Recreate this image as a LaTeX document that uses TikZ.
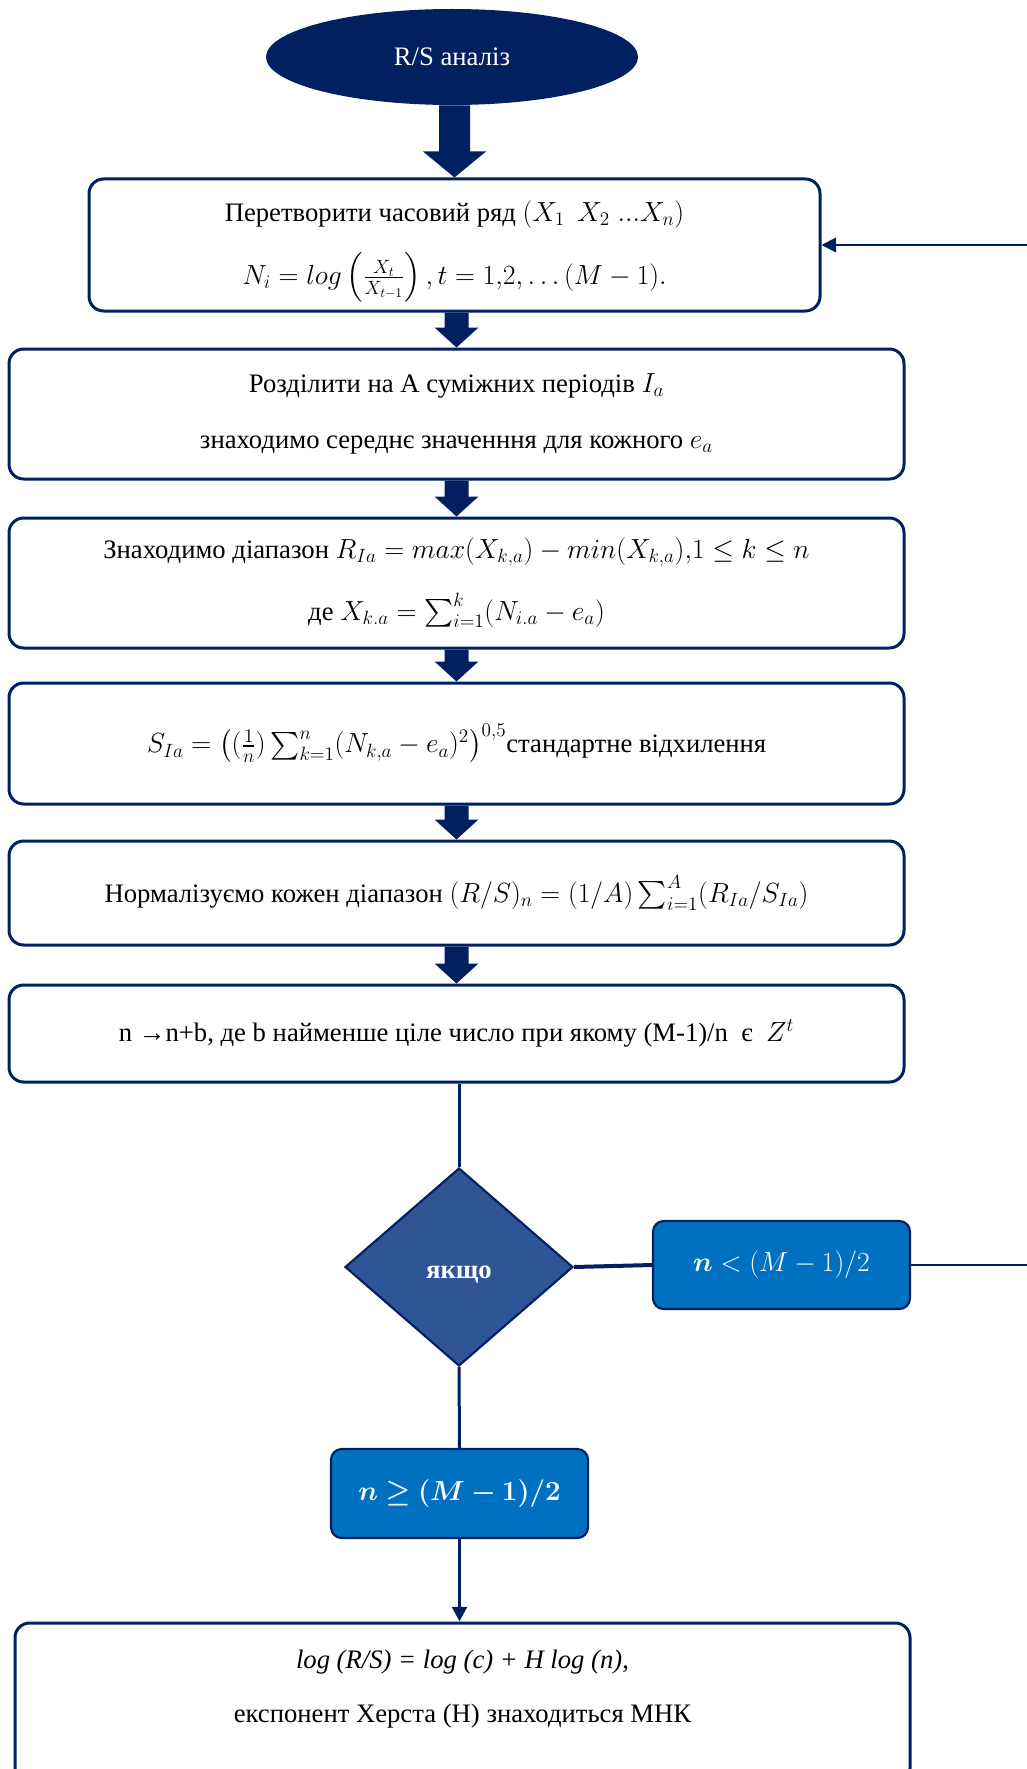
\documentclass[tikz,border=0pt]{standalone}
\usepackage{amsmath}
\usepackage{bm}
\usepackage{fontspec}
\setmainfont{Liberation Serif}
\usetikzlibrary{shapes.geometric,arrows.meta,calc}

\definecolor{navy}{HTML}{002060}
\definecolor{diafill}{HTML}{2F5597}
\definecolor{condfill}{HTML}{0070C0}

% one drawing unit = one pixel of the 1027 x 1769 canvas
\newcommand{\pxu}{0.75pt}

% filled block arrow pointing down into the top of a node
% #1 source node, #2 target node, #3 shaft half-width, #4 head half-width, #5 head length
\newcommand{\blockarrow}[5]{%
  \fill[navy] ($(#2.north |- #1.south)+(-#3,0)$) -- ($(#2.north)+(-#3,-#5)$)
    -- ($(#2.north)+(-#4,-#5)$) -- (#2.north) -- ($(#2.north)+(#4,-#5)$)
    -- ($(#2.north)+(#3,-#5)$) -- ($(#2.north |- #1.south)+(#3,0)$) -- cycle;}

\begin{document}
\begin{tikzpicture}[x=0.75pt,y=-0.75pt,
  every node/.style={font=\fontsize{20}{24}\selectfont},
  stepbox/.style={draw=navy, line width=2.25pt, rounded corners=11pt,
    align=center, inner sep=0pt, fill=white, minimum width=895*\pxu},
  condbox/.style={draw=navy, line width=1.6pt, rounded corners=8pt, fill=condfill,
    text=white, inner sep=0pt, minimum width=257*\pxu, minimum height=88*\pxu},
  conn/.style={draw=navy, line width=2.25pt},
  thinconn/.style={draw=navy, line width=1.6pt},
  tip/.style={-{Triangle[length=11pt,width=11pt]}}]

\useasboundingbox (0,0) rectangle (1027,1769);
\clip (0,0) rectangle (1027,1769);

% start terminal
\node[ellipse, fill=navy, text=white, minimum width=372*\pxu, minimum height=96*\pxu,
  inner sep=0pt] (start) at (452,57) {R/S аналіз};

% processing steps
\node[stepbox, minimum width=731*\pxu, minimum height=132*\pxu] (b1) at (454.5,245)
  {\rule{0pt}{25.5pt}Перетворити часовий ряд $(X_1\;\, X_2\;...X_n)$\\[17.5pt]
   $N_i = log\left(\frac{X_t}{X_{t-1}}\right), t = 1{,}2{,}\ldots(M-1).$};

\node[stepbox, minimum height=130*\pxu] (b2) at (456.5,414)
  {Розділити на А суміжних періодів $I_a$\\[18pt]
   знаходимо середнє значенння для кожного $e_a$};

\node[stepbox, minimum height=130*\pxu] (b3) at (456.5,583)
  {Знаходимо діапазон $R_{Ia} = max(X_{k,a}) - min(X_{k,a}){,}1 \le k \le n$\\[19pt]
   де $X_{k.a} = \sum_{i=1}^{k}(N_{i.a} - e_a)$};

\node[stepbox, minimum height=121*\pxu] (b4) at (456.5,743.5)
  {$S_{Ia} = \left((\frac{1}{n})\sum_{k=1}^{n}(N_{k,a} - e_a)^2\right)^{0{,}5}$стандартне відхилення};

\node[stepbox, minimum height=104*\pxu] (b5) at (456.5,893)
  {Нормалізуємо кожен діапазон $(R/S)_n = (1/A)\sum_{i=1}^{A}(R_{Ia}/S_{Ia})$};

\node[stepbox, minimum height=97*\pxu] (b6) at (456.5,1033.5)
  {n →n+b, де b найменше ціле число при якому (M-1)/n\ \ є\ \ $Z^t$};

% decision
\node[diamond, draw=navy, fill=diafill, line width=1.6pt, text=white, inner sep=0pt,
  minimum width=228*\pxu, minimum height=198*\pxu,
  font=\fontsize{20}{24}\selectfont\bfseries] (dia) at (459,1267)
  {\raisebox{-8.5pt}[0pt][0pt]{якщо}};

\node[condbox] (nlt) at (781.5,1265) {$\bm{n} < (M-1)/2$};
\node[condbox, minimum height=89*\pxu] (nge) at (459.5,1493.5) {$\bm{n \geq (M-1)/2}$};

% final step (runs past the lower edge)
\node[stepbox, minimum height=160*\pxu] (fin) at (462.5,1703) {};
\node[align=center] (fintext) at (462.5,1689)
  {\textit{log (R/S) = log (c) + H log (n)},\\[16.5pt]
   експонент Херста (Н) знаходиться МНК};

% block arrows between the steps
\blockarrow{start}{b1}{15.5}{31.5}{26}
\blockarrow{b1}{b2}{12}{22}{20}
\blockarrow{b2}{b3}{12}{22}{20}
\blockarrow{b3}{b4}{12}{22}{20}
\blockarrow{b4}{b5}{12}{22}{20}
\blockarrow{b5}{b6}{12}{22}{20}

% decision connectors
\draw[conn] (dia.north |- b6.south) -- (dia.north);
\draw[navy, line width=3pt] (dia.east) -- (nlt.west);
\draw[conn] (dia.south) -- (nge.north);
\draw[conn, tip] (nge.south) -- (nge.south |- fin.north);

% loop back to the first step along the right margin
\coordinate (rail) at (1045,0);
\draw[thinconn, tip] (nlt.east) -- (nlt.east -| rail) |- (b1.east);
\end{tikzpicture}
\end{document}
